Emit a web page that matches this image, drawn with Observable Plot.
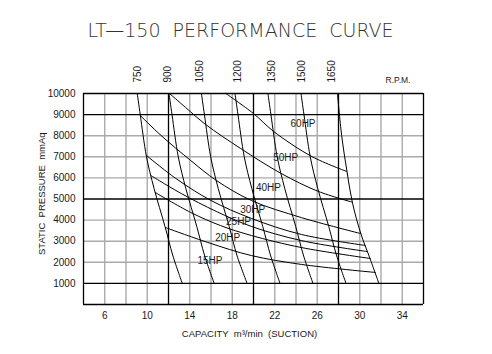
<!DOCTYPE html>
<html><head><meta charset="utf-8">
<script src="https://cdn.jsdelivr.net/npm/d3@7"></script>
<script src="https://cdn.jsdelivr.net/npm/@observablehq/plot@0.6"></script>
<style>body{margin:0;background:#fff}</style>
</head><body><div id="chart"></div>
<script>
const title = "LT—150  PERFORMANCE  CURVE";
const xLabel = "CAPACITY  m³/min  (SUCTION)";
const yLabel = "STATIC  PRESSURE  mmAq";
const rpmUnit = "R.P.M.";
const xTicks = [6, 10, 14, 18, 22, 26, 30, 34];
const yTicks = [1000, 2000, 3000, 4000, 5000, 6000, 7000, 8000, 9000, 10000];
const xGridMajor = [4, 12, 20, 28, 36];
const xGridMinor = [6, 8, 10, 14, 16, 18, 22, 24, 26, 30, 32, 34];
const yGridMajor = [0, 1000, 5000, 9000, 10000];
const yGridMinor = [2000, 3000, 4000, 6000, 7000, 8000];

// fan speed curves (capacity, static pressure)
const rpmNames = ["750", "900", "1050", "1200", "1350", "1500", "1650"];
const rpmLabelX = [9.13, 11.95, 14.96, 18.54, 21.74, 24.56, 27.39];
const rpm750  = [[9.06,10000],[9.34,9000],[9.93,7000],[10.64,5500],[11.67,3700],[12.42,2300],[13.3,1000]];
const rpm900  = [[12.05,10000],[12.33,9000],[12.92,7000],[13.63,5500],[14.66,3700],[15.41,2300],[16.3,1000]];
const rpm1050 = [[15.1,10000],[15.38,9000],[15.97,7000],[16.68,5500],[17.71,3700],[18.46,2300],[19.4,1000]];
const rpm1200 = [[18.26,10000],[18.54,9000],[19.13,7000],[19.84,5500],[20.87,3700],[21.62,2300],[22.5,1000]];
const rpm1350 = [[21.36,10000],[21.64,9000],[22.23,7000],[22.94,5500],[23.97,3700],[24.72,2300],[25.6,1000]];
const rpm1500 = [[24.47,10000],[24.75,9000],[25.34,7000],[26.05,5500],[27.08,3700],[27.83,2300],[28.71,1000]];
const rpm1650 = [[27.9,10000],[28.3,8000],[28.8,6300],[29.3,4850],[30.1,3360],[30.95,2200],[31.8,1000]];

// power curves
const hpNames = ["60HP", "50HP", "40HP", "30HP", "25HP", "20HP", "15HP"];
const hpLabelX = [24.66, 23.03, 21.41, 19.92, 18.59, 17.57, 15.9];
const hpLabelY = [8554, 6952, 5530, 4488, 3919, 3175, 2071];
const hp60 = [[17.4,10000],[20.0,9050],[21.9,8200],[25.5,7010],[28.8,6300]];
const hp50 = [[12.1,10000],[13.6,9340],[15.5,8530],[18.8,7390],[22.6,6210],[26.1,5360],[29.3,4850]];
const hp40 = [[9.34,8960],[11.3,8010],[14.1,6820],[16.5,5880],[19.8,4930],[24.5,4120],[30.1,3360]];
const hp30 = [[9.93,7060],[12.7,5970],[16.0,4930],[19.8,4080],[24.5,3320],[30.5,2800]];
const hp25 = [[10.35,6110],[13.2,5260],[16.5,4410],[19.8,3700],[24.5,3030],[30.7,2510]];
const hp20 = [[10.75,5310],[14.1,4360],[16.9,3740],[19.8,3270],[24.5,2700],[31.0,2180]];
const hp15 = [[11.7,3650],[15.7,2940],[19.8,2320],[24.5,1900],[31.45,1520]];

const rpmSeries = [rpm750, rpm900, rpm1050, rpm1200, rpm1350, rpm1500, rpm1650];
const hpSeries = [hp60, hp50, hp40, hp30, hp25, hp20, hp15];
const toRows = (series, names) => series.flatMap((pts, i) => pts.map(([x, y]) => ({name: names[i], x, y})));
const rpmRows = toRows(rpmSeries, rpmNames);
const hpRows = toRows(hpSeries, hpNames);
const rpmLabels = rpmNames.map((t, i) => ({t, x: rpmLabelX[i]}));
const hpLabels = hpNames.map((t, i) => ({t, x: hpLabelX[i], y: hpLabelY[i]}));

const ink = "#1a1a1a";
const chart = Plot.plot({
  width: 492, height: 354,
  marginLeft: 83, marginRight: 69, marginTop: 93, marginBottom: 50,
  style: {fontFamily: "'Liberation Sans', Arial, sans-serif", fontSize: "10px", color: ink, background: "#fff"},
  x: {domain: [4, 36], ticks: xTicks, tickSize: 0, tickPadding: 7, label: null},
  y: {domain: [0, 10000], ticks: yTicks, tickSize: 0, tickPadding: 8, label: null, tickFormat: d => String(d)},
  marks: [
    Plot.ruleX(xGridMinor, {stroke: "#aaaaaa", strokeWidth: 1.4}),
    Plot.ruleY(yGridMinor, {stroke: "#aaaaaa", strokeWidth: 1.4}),
    Plot.ruleX(xGridMajor, {stroke: "#000", strokeWidth: 1.3}),
    Plot.ruleY(yGridMajor, {stroke: "#000", strokeWidth: 1.3}),
    Plot.line(rpmRows, {x: "x", y: "y", z: "name", curve: "catmull-rom", stroke: "#000", strokeWidth: 1}),
    Plot.line(hpRows, {x: "x", y: "y", z: "name", curve: "catmull-rom", stroke: "#000", strokeWidth: 1}),
    Plot.text(hpLabels, {x: "x", y: "y", text: "t", fontSize: 10, fill: ink}),
    Plot.text(rpmLabels, {x: "x", text: "t", frameAnchor: "top", lineAnchor: "middle", rotate: -90, textAnchor: "start", dy: -11,
      fontSize: 10, fontFamily: "'Liberation Sans Narrow', 'Liberation Sans', sans-serif", fill: ink}),
    Plot.text([rpmUnit], {x: [33.6], text: d => d, frameAnchor: "top", lineAnchor: "middle", dy: -13, fontSize: 8.5, fill: ink}),
    Plot.text([xLabel], {text: d => d, frameAnchor: "bottom", lineAnchor: "middle", dy: 29, dx: -4, fontSize: 9.5, fill: ink}),
    Plot.text([yLabel], {x: [0.05], y: [5250], text: d => d, rotate: -90, textAnchor: "middle", lineAnchor: "middle", fontSize: 9.5, fill: ink}),
    Plot.text([title], {text: d => d, frameAnchor: "top", lineAnchor: "middle", dy: -63, dx: -13, fontSize: 19,
      fontFamily: "'DejaVu Sans', sans-serif", fontWeight: 200, fill: "#333", letterSpacing: "0.7px"})
  ]
});
document.getElementById("chart").appendChild(chart);
</script></body></html>
